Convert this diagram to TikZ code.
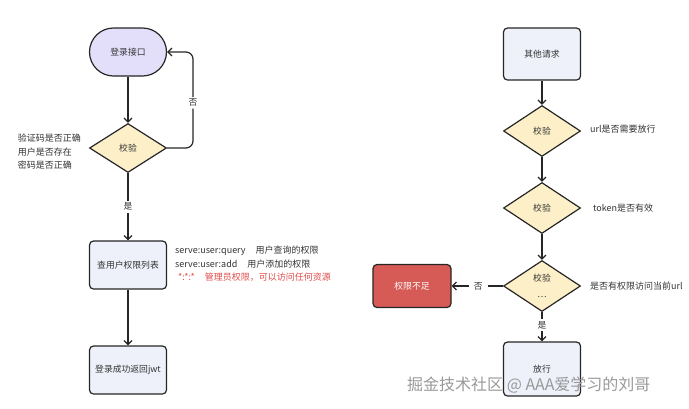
\documentclass[tikz,border=0pt]{standalone}
\usepackage{fontspec}
\setmainfont{Noto Sans CJK SC}
\usetikzlibrary{shapes.geometric,arrows.meta}
\definecolor{lav}{HTML}{E3DFFA}
\definecolor{ylw}{HTML}{FDF0C8}
\definecolor{lbl}{HTML}{EEF1FA}
\definecolor{rbox}{HTML}{D65A55}
\definecolor{txt}{HTML}{333333}
\definecolor{rtxt}{HTML}{E04A48}
\tikzset{
  base/.style={draw=black!85, line width=1.2pt, text=txt, font=\fontsize{8.8}{10}\selectfont, inner sep=0pt},
  stad/.style={base, fill=lav, rounded corners=24pt, minimum width=77pt, minimum height=48pt},
  dia/.style={base, diamond, fill=ylw, minimum width=77pt, minimum height=49pt},
  boxx/.style={base, fill=lbl, rounded corners=4pt, minimum width=77pt, minimum height=48pt},
  redbox/.style={base, fill=rbox, text=white, rounded corners=4pt, minimum width=78pt, minimum height=43pt},
  note/.style={text=txt, font=\fontsize{9}{13.5}\selectfont, inner sep=0pt, align=left},
  lab/.style={text=txt, font=\fontsize{8.8}{10}\selectfont, fill=white, inner sep=2pt},
  conn/.style={line width=1.2pt, draw=black!85},
  arr/.style={conn, -{Straight Barb[length=4pt,width=8pt,line width=1.2pt]}},
}
\begin{document}
\begin{tikzpicture}[x=1pt,y=-1pt]
\useasboundingbox (0,0) rectangle (689,408);
% left column
\node[stad] (login) at (128,52) {登录接口};
\node[dia] (chk) at (128,148) {校验};
\node[boxx] (perm) at (128,265) {查用户权限列表};
\node[boxx] (ok) at (128,370) {登录成功返回jwt};
\node[note, anchor=east] (chknote) at (81,152) {验证码是否正确\\用户是否存在\\密码是否正确};
\node[note, anchor=north west] (permnote) at (175,246) {serve:user:query\hspace{10pt}用户查询的权限\\serve:user:add\hspace{10pt}用户添加的权限\\\textcolor{rtxt}{\hspace{3pt}*:*:*\hspace{10pt}管理员权限，可以访问任何资源}};
\coordinate (lb) at (193,148);
\coordinate (lt) at (193,52);
\draw[arr] (login) -- (chk);
\draw[arr, rounded corners=7pt] (chk.east) -- (lb) -- node[lab, pos=0.47] {否} (lt) -- (login.east);
\draw[arr] (chk.south) -- (perm.north) node[pos=0.5, lab] {是};
\draw[arr] (perm) -- (ok);
% right column
\node[boxx, minimum height=52pt] (other) at (542,54) {其他请求};
\node[dia, minimum height=51pt] (c1) at (542,131) {校验};
\node[dia, minimum height=51pt] (c2) at (542,208) {校验};
\node[dia, minimum height=51pt, align=center, font=\fontsize{8.8}{16}\selectfont] (c3) at (542,286) {校验\\…};
\node[boxx, minimum height=54pt] (pass) at (542,369) {放行};
\node[redbox] (deny) at (412,286) {权限不足};
\node[note, anchor=west] (n1) at (590,129) {url是否需要放行};
\node[note, anchor=west] (n2) at (593,208) {token是否有效};
\node[note, anchor=west] (n3) at (590,286) {是否有权限访问当前url};
\draw[arr] (other) -- (c1);
\draw[arr] (c1) -- (c2);
\draw[arr] (c2) -- (c3);
\draw[arr] (c3.west) -- (deny.east) node[pos=0.48, lab, inner sep=5pt] {否};
\draw[arr] (c3.south) -- (pass.north) node[pos=0.45, lab] {是};
% watermark
\node[text=black!40, font=\fontsize{16}{18}\selectfont, anchor=west, inner sep=0pt] (wm) at (407,385) {掘金技术社区 @ AAA爱学习的刘哥};
\end{tikzpicture}
\end{document}
